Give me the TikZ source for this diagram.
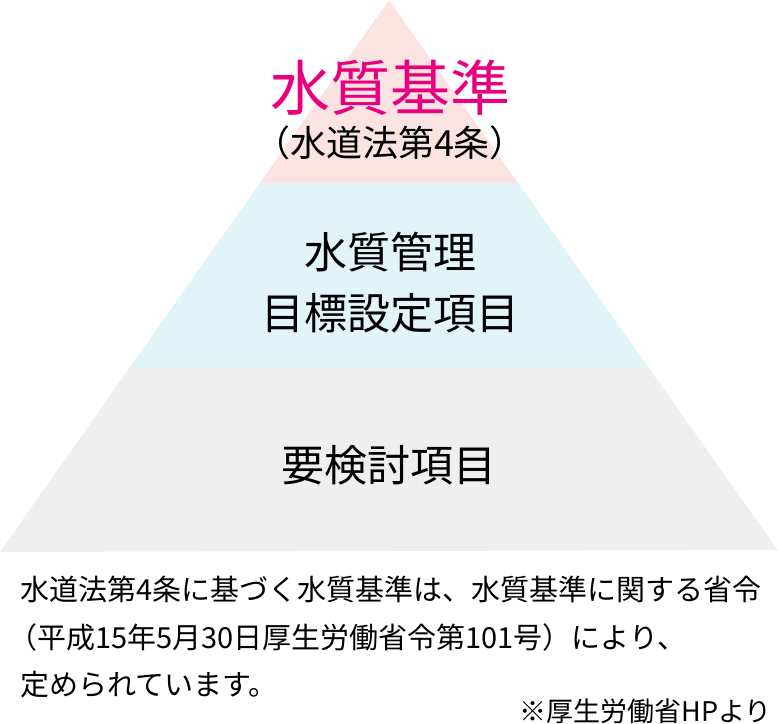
\documentclass[tikz,border=0pt]{standalone}
\usepackage{fontspec}
\setmainfont{Noto Sans CJK JP}
\begin{document}
\begin{tikzpicture}[x=1pt,y=-1pt,
  lbl/.style={inner sep=0pt,font=#1}]
\useasboundingbox (0,0) rectangle (778,723);
\definecolor{pk}{HTML}{FBE3E2}
\definecolor{cy}{HTML}{E1F4F8}
\definecolor{gy}{HTML}{EFEFEF}
\definecolor{mg}{HTML}{E8007F}
\coordinate (apex) at (389,0);
\fill[pk] (apex) -- (518,183) -- (260,183) -- cycle;
\fill[cy] (260,183) -- (518,183) -- (648,367) -- (130,367) -- cycle;
\fill[gy] (130,367) -- (648,367) -- (778,550) -- (0,552) -- cycle;
\node[lbl={\fontsize{60}{60}\selectfont},text=mg] (t1) at (390,88) {水質基準};
\node[lbl={\fontsize{36}{36}\selectfont}] (t2) at (390,143) {（水道法第4条）};
\node[lbl={\fontsize{43}{43}\selectfont}] (t3) at (390,252) {水質管理};
\node[lbl={\fontsize{43}{43}\selectfont}] (t4) at (390,313) {目標設定項目};
\node[lbl={\fontsize{43}{43}\selectfont}] (t5) at (389,465) {要検討項目};
\node[lbl={\fontsize{29}{29}\selectfont},anchor=west] (p1) at (20,589) {水道法第4条に基づく水質基準は、水質基準に関する省令};
\node[lbl={\fontsize{29}{29}\selectfont},anchor=west] (p2) at (8,637) {（平成15年5月30日厚生労働省令第101号）により、};
\node[lbl={\fontsize{29}{29}\selectfont},anchor=west] (p3) at (20,685) {定められています。};
\node[lbl={\fontsize{27}{27}\selectfont},anchor=east] (f) at (772,711) {※厚生労働省HPより};
\end{tikzpicture}
\end{document}
